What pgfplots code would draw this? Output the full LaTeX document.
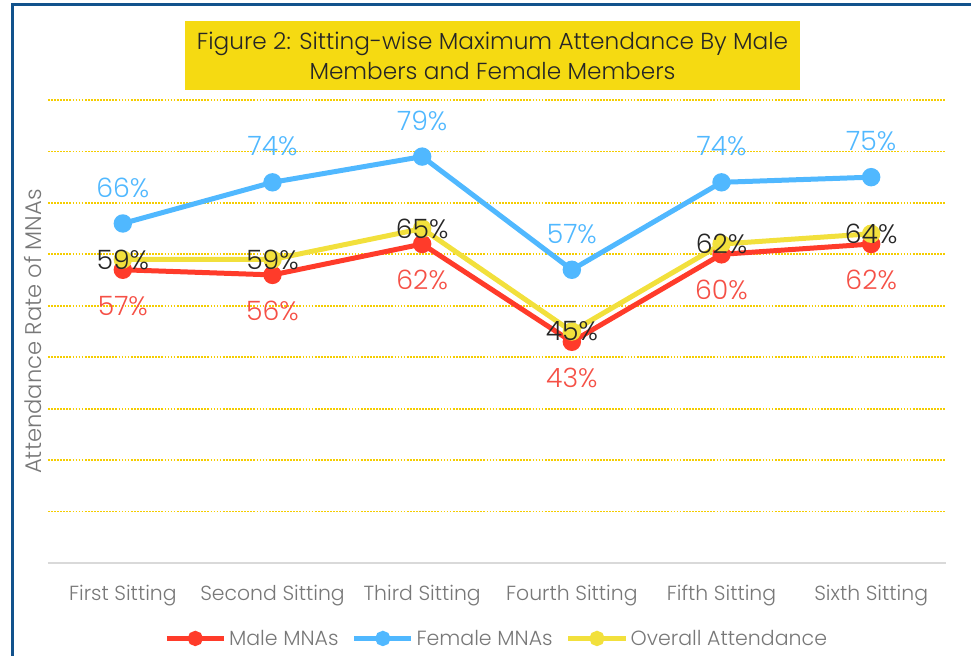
\documentclass[border=0pt]{standalone}
\usepackage{pgfplots}
\pgfplotsset{compat=1.18}
\usepackage{fontspec}
\setmainfont{Poppins}[UprightFont=* Light]
\definecolor{frameblue}{RGB}{18,82,140}
\definecolor{titleyellow}{RGB}{245,218,18}
\definecolor{gridyellow}{RGB}{245,205,0}
\definecolor{malered}{RGB}{255,59,42}
\definecolor{malelabel}{RGB}{245,80,70}
\definecolor{femaleblue}{RGB}{80,184,255}
\definecolor{overallyellow}{RGB}{242,224,60}
\definecolor{txtgray}{RGB}{120,120,120}
\begin{document}
\begin{tikzpicture}
\useasboundingbox (0,0) rectangle (728.25pt,492pt);
\draw[frameblue,line width=2.25pt] (9pt,0) -- (9pt,488.25pt) -- (728.25pt,488.25pt);
\node[fill=titleyellow,minimum width=461pt,minimum height=51.75pt,align=center,inner sep=0pt,font=\fontsize{17.4}{22.5}\selectfont,text=black!85] at (369.4pt,450.4pt) {Figure 2: Sitting-wise Maximum Attendance By Male\\Members and Female Members};
\begin{axis}[
  at={(36pt,69.75pt)}, anchor=south west,
  scale only axis, width=673.5pt, height=347.25pt,
  xmin=-0.5, xmax=5.5, ymin=0, ymax=90,
  axis x line*=bottom, axis y line*=left,
  x axis line style={draw=black!15,line width=1.5pt,-},
  y axis line style={draw=none},
  xtick={0,...,5},
  xticklabels={First Sitting,Second Sitting,Third Sitting,Fourth Sitting,Fifth Sitting,Sixth Sitting},
  xticklabel style={font=\fontsize{15.3}{17}\selectfont,text=txtgray,yshift=-13pt},
  major tick length=0pt,
  ytick={10,20,...,90}, yticklabels={},
  ymajorgrids, grid style={gridyellow,line width=1.4pt,dash pattern=on 1.3pt off 1pt},
  clip=false,
  /pgf/number format/assume math mode=true,
  nodes near coords={\pgfmathprintnumber{\pgfplotspointmeta}\%},
  every node near coord/.append style={font=\fontsize{20}{22}\selectfont,anchor=center},
  legend style={at={(0.5,-0.163)},anchor=center,draw=none,legend columns=-1,font=\fontsize{15.4}{17}\selectfont,text=txtgray,/tikz/every even column/.append style={column sep=8pt},inner sep=0pt},
  legend image code/.code={\draw[#1,mark repeat=2,mark phase=2,mark size=3.8pt] plot coordinates {(0pt,0pt)(21.4pt,0pt)(42.8pt,0pt)};},
]
\addplot[malered,line width=3.75pt,mark=*,mark size=5pt,mark options={solid},
  every node near coord/.append style={text=malelabel,yshift=-27pt}]
  coordinates {(0,57)(1,56)(2,62)(3,43)(4,60)(5,62)};
\addlegendentry{Male MNAs}
\addplot[femaleblue,line width=3.75pt,mark=*,mark size=5pt,
  every node near coord/.append style={text=femaleblue,yshift=27pt}]
  coordinates {(0,66)(1,74)(2,79)(3,57)(4,74)(5,75)};
\addlegendentry{Female MNAs}
\addplot[overallyellow,line width=3.75pt,mark=*,mark size=5pt,
  every node near coord/.append style={text=black!85,yshift=0pt}]
  coordinates {(0,59)(1,59)(2,65)(3,45)(4,62)(5,64)};
\addlegendentry{Overall Attendance}
\node[rotate=90,font=\fontsize{17}{19}\selectfont,text=txtgray] at (axis description cs:-0.0167,0.5) {Attendance Rate of MNAs};
\end{axis}
\end{tikzpicture}
\end{document}
